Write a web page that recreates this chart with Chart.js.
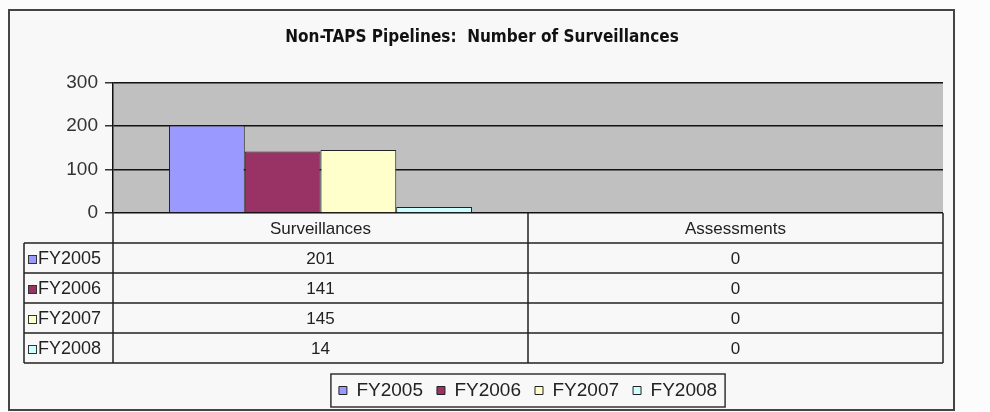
<!DOCTYPE html>
<html>
<head>
<meta charset="utf-8">
<title>Non-TAPS Pipelines: Number of Surveillances</title>
<script src="https://cdn.jsdelivr.net/npm/chart.js@4.4.0/dist/chart.umd.min.js"></script>
<style>
  html, body { margin: 0; padding: 0; background: #fcfcfc; }
  #wrap { width: 990px; height: 412px; }
</style>
</head>
<body>
<div id="wrap"><canvas id="grafik" width="990" height="412"></canvas></div>
<script>
// data dari gambar
const categories = ['Surveillances', 'Assessments'];
const seriesNames = ['FY2005', 'FY2006', 'FY2007', 'FY2008'];
const fy2005 = [201, 0];
const fy2006 = [141, 0];
const fy2007 = [145, 0];
const fy2008 = [14, 0];
const yTicks = [0, 100, 200, 300];

const seriesValues = [fy2005, fy2006, fy2007, fy2008];
const seriesColors = ['#9999ff', '#993366', '#ffffcc', '#ccffff'];

const fontBiasa = 'Liberation Sans, Arial, sans-serif';
const fontJudul = '"Liberation Sans Narrow", "DejaVu Sans Condensed", sans-serif';

// latar, bingkai luar dan area plot abu-abu
const latarPlugin = {
  id: 'latar',
  beforeDraw(chart) {
    const { ctx, chartArea } = chart;
    ctx.save();
    ctx.fillStyle = '#fcfcfc';
    ctx.fillRect(0, 0, chart.width, chart.height);
    ctx.fillStyle = '#f8f8f8';
    ctx.fillRect(9, 10, 945, 400);
    ctx.strokeStyle = '#444';
    ctx.lineWidth = 2;
    ctx.strokeRect(9, 10, 945, 400);
    ctx.fillStyle = '#c0c0c0';
    ctx.fillRect(chartArea.left, chartArea.top, chartArea.right - chartArea.left, chartArea.bottom - chartArea.top);
    ctx.restore();
  }
};

// tabel data di bawah grafik + bingkai legenda
const tabelPlugin = {
  id: 'tabel',
  afterDraw(chart) {
    const { ctx, chartArea } = chart;
    const xs = chart.scales.x;
    const n = categories.length;
    const lebarKolom = (chartArea.right - chartArea.left) / n;
    const atas = chartArea.bottom;
    const tinggiKepala = 30;
    const tinggiBaris = 30;
    const kiriTabel = chartArea.left - 89;
    const bawah = atas + tinggiKepala + tinggiBaris * seriesNames.length;

    ctx.save();
    ctx.strokeStyle = '#222';
    ctx.lineWidth = 1.5;
    ctx.beginPath();
    // garis vertikal
    ctx.moveTo(kiriTabel, atas + tinggiKepala);
    ctx.lineTo(kiriTabel, bawah);
    ctx.moveTo(chartArea.left, atas);
    ctx.lineTo(chartArea.left, bawah);
    for (let i = 0; i < n; i++) {
      const x = xs.getPixelForValue(i) + lebarKolom / 2;
      ctx.moveTo(x, atas);
      ctx.lineTo(x, bawah);
    }
    // garis horizontal
    for (let r = 0; r <= seriesNames.length; r++) {
      const y = atas + tinggiKepala + r * tinggiBaris;
      ctx.moveTo(kiriTabel, y);
      ctx.lineTo(chartArea.right, y);
    }
    ctx.stroke();

    ctx.fillStyle = '#222';
    ctx.textBaseline = 'middle';
    ctx.textAlign = 'center';
    ctx.font = '17px ' + fontBiasa;
    categories.forEach((c, i) => {
      ctx.fillText(c, xs.getPixelForValue(i), atas + tinggiKepala / 2 + 1);
    });

    chart.data.datasets.forEach((ds, r) => {
      const yc = atas + tinggiKepala + r * tinggiBaris + tinggiBaris / 2 + 1;
      // kunci warna
      ctx.fillStyle = ds.backgroundColor;
      ctx.fillRect(kiriTabel + 4, yc - 4, 8, 8);
      ctx.strokeStyle = '#333';
      ctx.lineWidth = 1;
      ctx.strokeRect(kiriTabel + 4.5, yc - 3.5, 8, 8);
      ctx.fillStyle = '#222';
      ctx.textAlign = 'left';
      ctx.font = '18px ' + fontBiasa;
      ctx.fillText(ds.label, kiriTabel + 14, yc);
      ctx.textAlign = 'center';
      ctx.font = '17px ' + fontBiasa;
      ds.data.forEach((v, i) => {
        ctx.fillText(String(v), xs.getPixelForValue(i), yc);
      });
    });

    // bingkai legenda
    const kotak = chart.legend && chart.legend.legendHitBoxes;
    if (kotak && kotak.length) {
      let kiri = Infinity, kanan = -Infinity, tengah = kotak[0].top + kotak[0].height / 2;
      kotak.forEach((b) => {
        kiri = Math.min(kiri, b.left);
        kanan = Math.max(kanan, b.left + b.width);
      });
      ctx.strokeStyle = '#333';
      ctx.lineWidth = 1.5;
      ctx.strokeRect(kiri - 8, tengah - 16.5, kanan - kiri + 16, 33);
    }
    ctx.restore();
  }
};

const datasets = seriesNames.map((nama, i) => ({
  label: nama,
  data: seriesValues[i],
  backgroundColor: seriesColors[i],
  borderColor: '#222',
  borderWidth: 1,
  borderSkipped: 'start',
  categoryPercentage: 0.73,
  barPercentage: 1
}));

// eslint-disable-next-line no-undef
new Chart(document.getElementById('grafik'), {
  type: 'bar',
  data: { labels: categories, datasets: datasets },
  plugins: [latarPlugin, tabelPlugin],
  options: {
    responsive: false,
    animation: false,
    layout: { padding: { left: 21, right: 47, top: 0, bottom: 2 } },
    plugins: {
      tooltip: { enabled: false },
      title: {
        display: true,
        text: 'Non-TAPS Pipelines:  Number of Surveillances',
        color: '#111',
        font: { family: fontJudul, size: 17, weight: 'bold' },
        padding: { top: 27, bottom: 35 }
      },
      legend: {
        position: 'bottom',
        fullSize: false,
        labels: {
          boxWidth: 8,
          boxHeight: 8,
          padding: 14,
          color: '#222',
          font: { family: fontBiasa, size: 19 }
        }
      }
    },
    scales: {
      x: {
        grid: { display: false },
        border: { display: false },
        ticks: { display: false },
        afterFit(scale) { scale.height = 154; }
      },
      y: {
        min: yTicks[0],
        max: yTicks[yTicks.length - 1],
        afterBuildTicks(scale) { scale.ticks = yTicks.map((v) => ({ value: v })); },
        afterFit(scale) { scale.width = 92; },
        grid: { color: '#111', lineWidth: 1.5, tickLength: 8, tickColor: '#333' },
        border: { color: '#111', width: 1.5 },
        ticks: { color: '#333', padding: 7, font: { family: fontBiasa, size: 19 } }
      }
    }
  }
});
</script>
</body>
</html>
